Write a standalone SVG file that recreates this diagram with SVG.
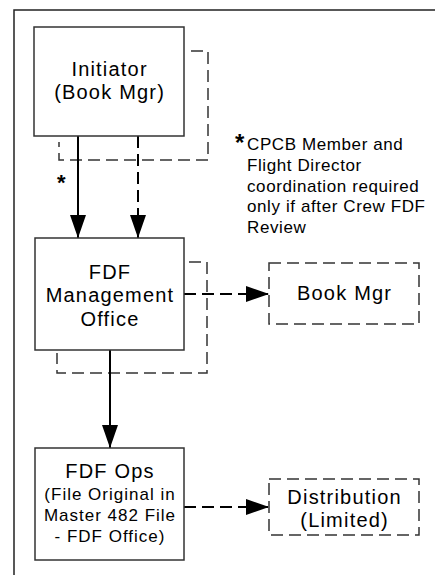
<svg xmlns="http://www.w3.org/2000/svg" width="435" height="575" viewBox="0 0 435 575">
<style>
.box{fill:#fff;stroke:#333;stroke-width:1.5}
.dbox{fill:#fff;stroke:#333;stroke-width:1.5;stroke-dasharray:12 6}
.solid{fill:none;stroke:#000;stroke-width:2}
.dash{fill:none;stroke:#000;stroke-width:2;stroke-dasharray:12 6}
.dbr{fill:none;stroke:#333;stroke-width:1.5;stroke-dasharray:12 6}
text{font-family:"Liberation Sans",Arial,sans-serif;fill:#000}
.lbl{font-size:20px;letter-spacing:1.2px;text-anchor:middle}
.sm{font-size:17px;letter-spacing:1px;text-anchor:middle}
.note{font-size:17px;letter-spacing:0.6px}
</style>
<defs>
<marker id="ah" viewBox="0 0 23 16" refX="23" refY="8" markerWidth="23" markerHeight="16" markerUnits="userSpaceOnUse" orient="auto">
<path d="M0,0 L23,8 L0,16 z" fill="#000"/>
</marker>
</defs>
<rect width="435" height="575" fill="#fff"/>
<path d="M14,580 V10 H440" fill="none" stroke="#222" stroke-width="1.5"/>
<g id="connectors">
<path class="dbr" d="M191,51 H208 V160 H59 V142"/>
<path class="dbr" d="M189,262 H207 V373 H57 V353"/>
<line class="solid" x1="78" y1="136" x2="78" y2="238" marker-end="url(#ah)"/>
<line class="dash" x1="138" y1="136" x2="138" y2="238" marker-end="url(#ah)"/>
<line class="dash" x1="184" y1="294" x2="269" y2="294" marker-end="url(#ah)"/>
<line class="solid" x1="110" y1="350" x2="110" y2="448" marker-end="url(#ah)"/>
<line class="dash" x1="184" y1="507" x2="269" y2="507" marker-end="url(#ah)"/>
</g>
<g id="initiator">
<rect class="box" x="34" y="27" width="150" height="109"/>
<text class="lbl" x="109.6" y="76">Initiator</text>
<text class="lbl" x="109.6" y="99">(Book Mgr)</text>
</g>
<g id="fdf-mgmt">
<rect class="box" x="35" y="238" width="149" height="112"/>
<text class="lbl" x="110" y="279">FDF</text>
<text class="lbl" x="110" y="302">Management</text>
<text class="lbl" x="110" y="326">Office</text>
</g>
<g id="book-mgr">
<rect class="dbox" x="269" y="263" width="150" height="61"/>
<text class="lbl" x="344.6" y="300">Book Mgr</text>
</g>
<g id="fdf-ops">
<rect class="box" x="35" y="448" width="149" height="112"/>
<text class="lbl" x="110" y="478">FDF Ops</text>
<text class="sm" x="110" y="500">(File Original in</text>
<text class="sm" x="110" y="521">Master 482 File</text>
<text class="sm" x="110" y="542">- FDF Office)</text>
</g>
<g id="distribution">
<rect class="dbox" x="269" y="479" width="150" height="56"/>
<text class="lbl" x="344.6" y="504">Distribution</text>
<text class="lbl" x="344.6" y="527">(Limited)</text>
</g>
<g id="notes">
<text x="57" y="190" style="font-size:22px;font-weight:bold">*</text>
<text x="235" y="151" style="font-size:24px;font-weight:bold">*</text>
<text class="note" x="247" y="150">CPCB Member and</text>
<text class="note" x="247" y="171">Flight Director</text>
<text class="note" x="247" y="191.5">coordination required</text>
<text class="note" x="247" y="212">only if after Crew FDF</text>
<text class="note" x="247" y="233">Review</text>
</g>
</svg>
